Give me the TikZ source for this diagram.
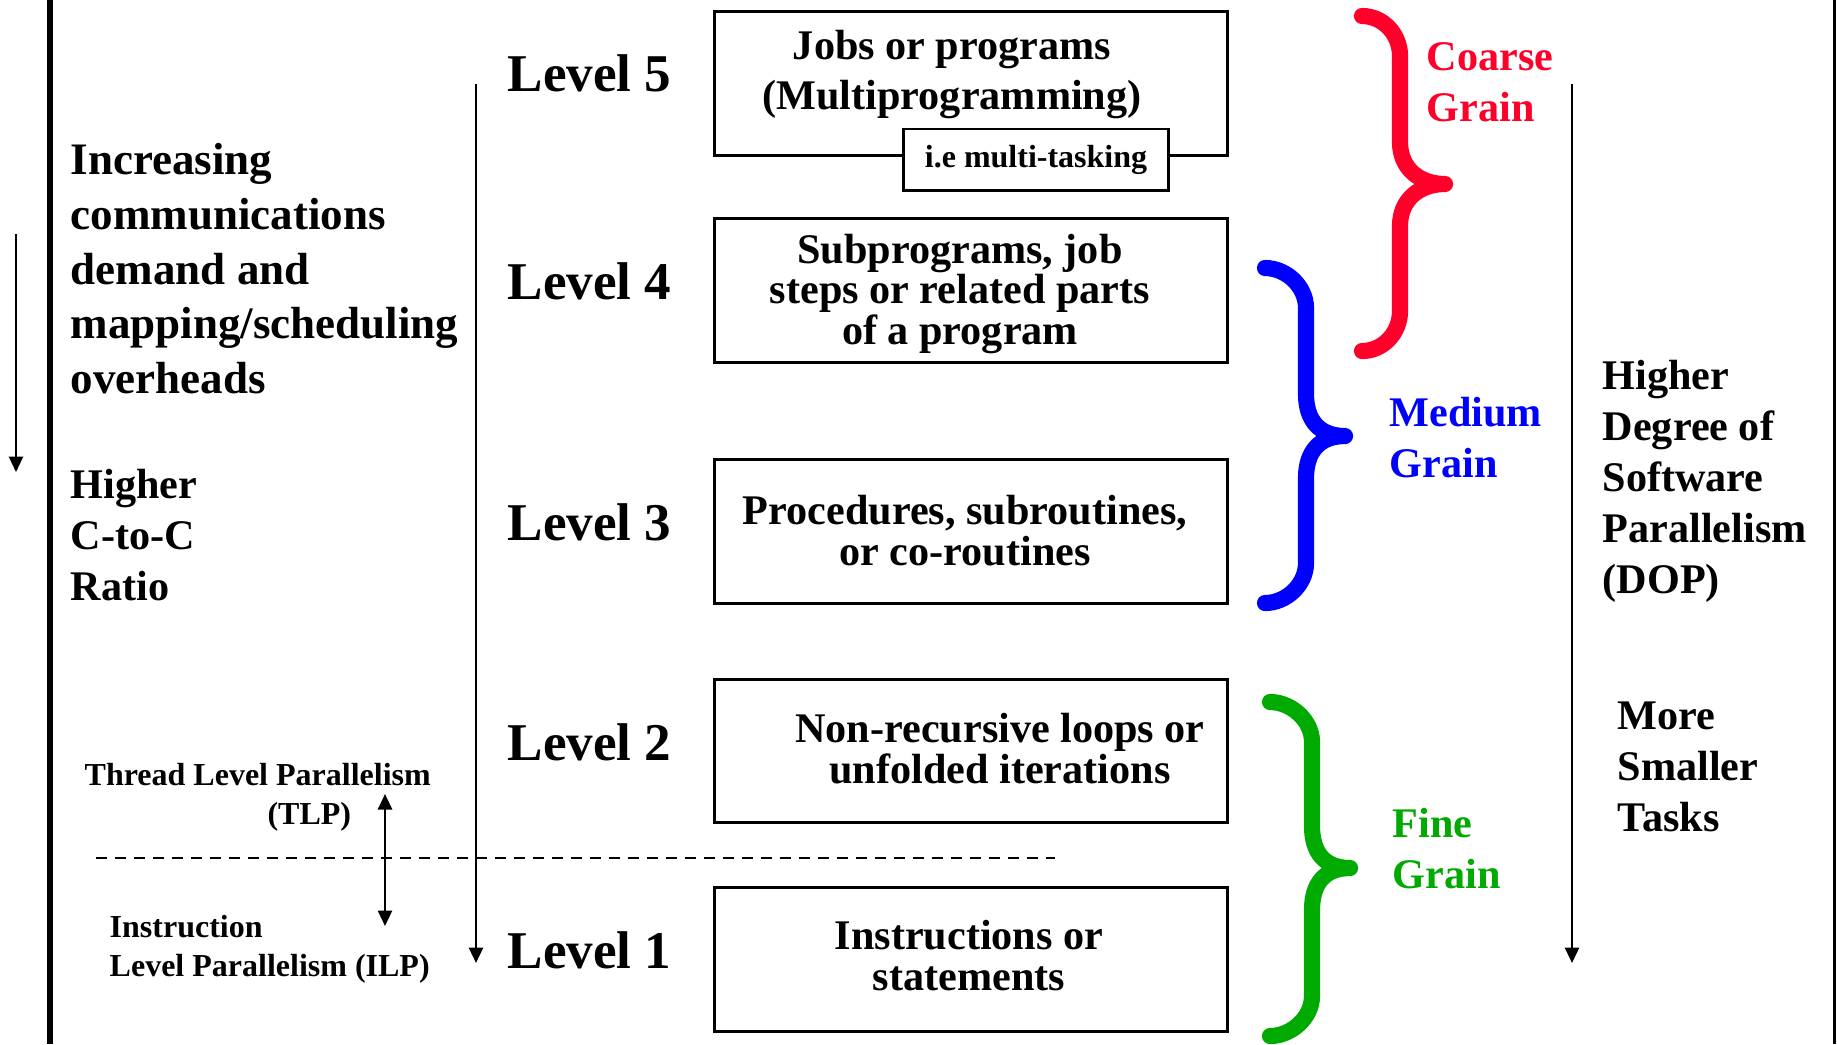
\documentclass[tikz,border=0pt]{standalone}
\usepackage{fontspec}
\setmainfont{Liberation Serif}
\usetikzlibrary{arrows.meta}

\definecolor{coarsered}{RGB}{255,0,43}
\definecolor{mediumblue}{RGB}{0,0,255}
\definecolor{finegreen}{RGB}{0,170,0}

% colour, end x, stem x, tip x, top y, middle y, bottom y
\newcommand{\grainbrace}[7]{%
  \draw[#1,line width=4.6pt,line cap=round,line join=round]
    (#2,#5) .. controls (#2+21,#5) and (#3,#5+18) .. (#3,#5+40)
    -- (#3,#6-42) .. controls (#3,#6-15) and (#4-25,#6) .. (#4,#6)
    .. controls (#4-25,#6) and (#3,#6+15) .. (#3,#6+42)
    -- (#3,#7-40) .. controls (#3,#7-18) and (#2+21,#7) .. (#2,#7);}

\begin{document}
\begin{tikzpicture}[x=0.01cm,y=-0.01cm,
    every node/.style={inner sep=0pt},
    big/.style={font=\fontsize{12.8}{15.5}\selectfont\bfseries},
    txt/.style={font=\fontsize{12}{14.5}\selectfont\bfseries},
    boxtxt/.style={font=\fontsize{12}{11.4}\selectfont\bfseries,align=center,anchor=base},
    small/.style={font=\fontsize{9.1}{10.9}\selectfont\bfseries},
    lvl/.style={anchor=base west,font=\fontsize{15.1}{18}\selectfont\bfseries},
    lvlbox/.style={draw,line width=0.85pt,minimum width=5.12cm,minimum height=1.43cm},
    arr/.style={line width=0.7pt,-{Triangle[length=4.4pt,width=4pt]}}]
  \useasboundingbox (0,0) rectangle (1837,1044);

  % frame lines
  \draw[line width=1.7pt] (50,0) -- (50,1044);
  \draw[line width=0.85pt] (1834,0) -- (1834,1044);

  % left side (multi-line nodes sit on their last line)
  \coordinate (demtop) at (16,234);
  \coordinate (demend) at (16,472);
  \draw[arr] (demtop) -- (demend);
  \node[big,anchor=base west,align=left] (demand) at (70,393)
    {Increasing\\communications\\demand and\\mapping/scheduling\\overheads};
  \node[txt,anchor=base west,align=left] (ratio) at (70,600) {Higher\\C-to-C\\Ratio};

  \node[small,anchor=base west,align=left] (tlp) at (84,824)
    {Thread Level Parallelism\\\hspace*{52pt}(TLP)};
  \node[small,anchor=base west,align=left] (ilp) at (109,976)
    {Instruction\\Level Parallelism (ILP)};
  \coordinate (dashl) at (96,858);
  \coordinate (dashr) at (1055,858);
  \draw[line width=0.75pt,dash pattern=on 3.2pt off 2.2pt] (dashl) -- (dashr);
  \coordinate (split) at (385,858);
  \coordinate (tlptip) at (385,794);
  \coordinate (ilptip) at (385,926);
  \draw[arr] (split) -- (tlptip);
  \draw[arr] (split) -- (ilptip);

  \coordinate (lvtop) at (476,84);
  \coordinate (lvend) at (476,963);
  \draw[arr] (lvtop) -- (lvend);

  % levels
  \node[lvl] (l5) at (507,91) {Level 5};
  \node[lvl] (l4) at (507,299) {Level 4};
  \node[lvl] (l3) at (507,540) {Level 3};
  \node[lvl] (l2) at (507,760) {Level 2};
  \node[lvl] (l1) at (507,968) {Level 1};

  \node[lvlbox] (b5) at (971,83.5) {};
  \node[lvlbox] (b4) at (971,290.5) {};
  \node[lvlbox] (b3) at (971,531.5) {};
  \node[lvlbox] (b2) at (971,751) {};
  \node[lvlbox] (b1) at (971,959.5) {};

  \node[boxtxt,font=\fontsize{12}{14.2}\selectfont\bfseries] (t5) at (952,109)
    {Jobs or programs\\(Multiprogramming)};
  \node[boxtxt] (t4) at (960,344) {Subprograms, job\\steps or related parts\\of a program};
  \node[boxtxt] (t3) at (965,565) {Procedures, subroutines,\\or co-routines};
  \node[boxtxt] (t2) at (1000,783) {Non-recursive loops or\\unfolded iterations};
  \node[boxtxt] (t1) at (969,990) {Instructions or\\statements};

  \node[small,draw,fill=white,line width=0.85pt,minimum width=2.64cm,minimum height=0.61cm]
    (multi) at (1036,159.5) {i.e multi-tasking};

  % grain braces
  \grainbrace{coarsered}{1362}{1400}{1445}{16}{184}{351}
  \grainbrace{mediumblue}{1265}{1306}{1345}{268}{436}{603}
  \grainbrace{finegreen}{1270}{1312}{1350}{702}{868}{1036}

  \node[txt,anchor=base west,align=left,text=coarsered] (coarse) at (1426,121) {Coarse\\Grain};
  \node[txt,anchor=base west,align=left,text=mediumblue] (medium) at (1389,477) {Medium\\Grain};
  \node[txt,anchor=base west,align=left,text=finegreen] (fine) at (1392,888) {Fine\\Grain};

  % right side
  \coordinate (doptop) at (1572,84);
  \coordinate (dopend) at (1572,963);
  \draw[arr] (doptop) -- (dopend);
  \node[txt,anchor=base west,align=left] (dop) at (1602,593)
    {Higher\\Degree of\\Software\\Parallelism\\(DOP)};
  \node[txt,anchor=base west,align=left] (tasks) at (1617,831) {More\\Smaller\\Tasks};
\end{tikzpicture}
\end{document}
